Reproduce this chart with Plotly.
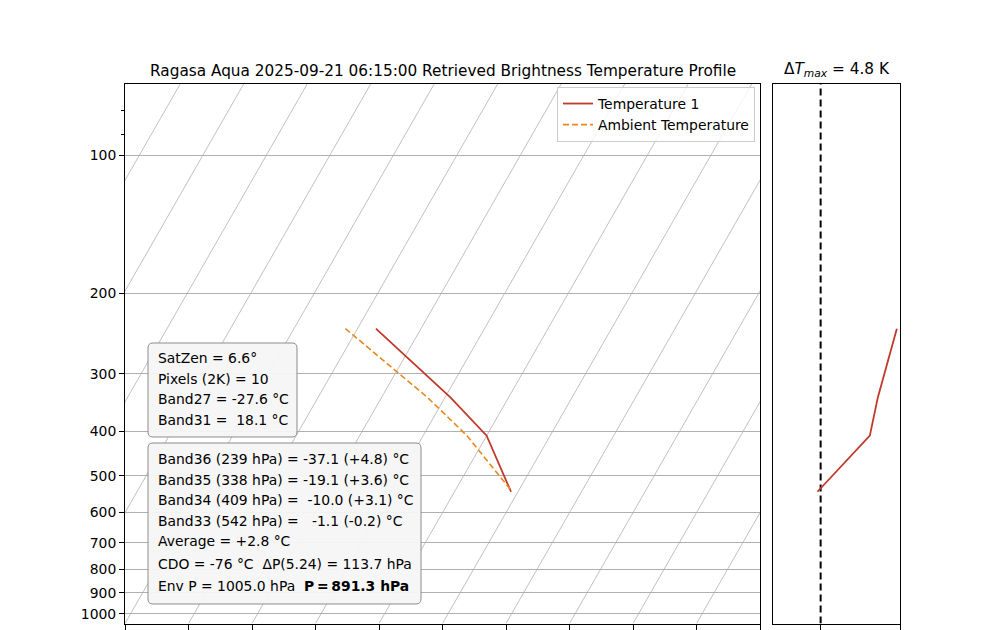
import numpy as np
import plotly.graph_objects as go

# ---------------- data ----------------
pressure_hpa = [239, 338, 409, 542]
temperature_1 = [-37.1, -19.1, -10.0, -1.1]
ambient_temperature = [-41.9, -22.7, -13.1, -0.9]
delta_t = [4.8, 3.6, 3.1, -0.2]

isotherm_bases = list(range(-130, 60, 10))
y_tick_vals = [100, 200, 300, 400, 500, 600, 700, 800, 900, 1000]
y_minor_vals = [80, 90]
x_tick_vals = [-50, -40, -30, -20, -10, 0, 10, 20, 30, 40, 50]
delta_tick_vals = [0, 5]

title_text = "Ragasa Aqua 2025-09-21 06:15:00 Retrieved Brightness Temperature Profile"
right_title = "Δ<i>T</i><sub><i>max</i></sub> = 4.8 K"
box1_lines = [
    "SatZen = 6.6°",
    "Pixels (2K) = 10",
    "Band27 = -27.6 °C",
    "Band31 =\u00a0\u00a018.1 °C",
]
box2_lines = [
    "Band36 (239 hPa) = -37.1 (+4.8) °C",
    "Band35 (338 hPa) = -19.1 (+3.6) °C",
    "Band34 (409 hPa) =\u00a0\u00a0-10.0 (+3.1) °C",
    "Band33 (542 hPa) =\u00a0\u00a0\u00a0-1.1 (-0.2) °C",
    "Average = +2.8 °C",
    "CDO = -76 °C\u00a0\u00a0ΔP(5.24) = 113.7 hPa",
    "Env P = 1005.0 hPa\u00a0\u00a0<b>P\u2009=\u2009891.3 hPa</b>",
]

# ---------------- geometry ----------------
W, H = 1000, 630
P_BOTTOM, P_TOP = 1050, 70
SKEW = 41.4  # degC shift per decade of pressure (skew-T)
FONT = "DejaVu Sans"
FS = 13.9
FS_TITLE = 15.3
RED = "#c0392b"
ORANGE = "#e6891f"
GRID = "#b0b0b0"


def skew_x(t, p):
    return np.asarray(t, dtype=float) + SKEW * np.log10(P_BOTTOM / np.asarray(p, dtype=float))


def px(x):
    return x / W


def py(y):
    return 1 - y / H


fig = go.Figure()

# isotherms
p_line = np.array([P_BOTTOM, P_TOP], dtype=float)
for t0 in isotherm_bases:
    fig.add_trace(go.Scatter(
        x=skew_x([t0, t0], p_line), y=p_line, mode="lines",
        line=dict(color=GRID, width=0.8), showlegend=False, hoverinfo="skip",
        xaxis="x", yaxis="y"))

fig.add_trace(go.Scatter(
    x=skew_x(temperature_1, pressure_hpa), y=pressure_hpa, mode="lines",
    name="Temperature 1", line=dict(color=RED, width=1.8), xaxis="x", yaxis="y"))
fig.add_trace(go.Scatter(
    x=skew_x(ambient_temperature, pressure_hpa), y=pressure_hpa, mode="lines",
    name="Ambient Temperature", line=dict(color=ORANGE, width=1.6, dash="6px,3px"),
    xaxis="x", yaxis="y"))

# right panel
fig.add_trace(go.Scatter(
    x=[0, 0], y=[P_BOTTOM, P_TOP], mode="lines",
    line=dict(color="black", width=2, dash="7px,4px"), showlegend=False,
    xaxis="x2", yaxis="y2"))
fig.add_trace(go.Scatter(
    x=delta_t, y=pressure_hpa, mode="lines",
    line=dict(color=RED, width=1.8), showlegend=False, xaxis="x2", yaxis="y2"))

y_dom = [py(623.5), py(84)]
common_y = dict(type="log", range=[np.log10(P_BOTTOM), np.log10(P_TOP)],
                showline=True, mirror=True, linecolor="black", linewidth=1,
                zeroline=False, domain=y_dom, automargin=False)

fig.update_layout(
    width=W, height=H,
    margin=dict(l=0, r=0, t=0, b=0),
    paper_bgcolor="white", plot_bgcolor="white",
    font=dict(family=FONT, size=FS, color="black"),
    xaxis=dict(domain=[px(125), px(760)], range=[-50, 50],
               tickvals=x_tick_vals, ticks="outside", ticklen=5, tickcolor="black",
               showticklabels=False, showgrid=False, zeroline=False,
               showline=True, mirror=True, linecolor="black", linewidth=1,
               automargin=False),
    yaxis=dict(**common_y, tickvals=y_tick_vals, ticktext=[str(v) for v in y_tick_vals],
               ticks="outside", ticklen=5, tickcolor="black",
               showgrid=True, gridcolor=GRID, gridwidth=0.8,
               tickfont=dict(size=FS),
               minor=dict(tickvals=y_minor_vals, ticks="outside", ticklen=3,
                          tickcolor="black", showgrid=False)),
    xaxis2=dict(domain=[px(773), px(900)], range=[-3, 5], anchor="y2",
                tickvals=delta_tick_vals, ticks="outside", ticklen=5, tickcolor="black",
                showticklabels=False, showgrid=False, zeroline=False,
                showline=True, mirror=True, linecolor="black", linewidth=1,
                automargin=False),
    yaxis2=dict(**common_y, anchor="x2", showticklabels=False, ticks="",
                showgrid=False),
    legend=dict(x=px(755), y=py(87), xanchor="right", yanchor="top",
                bgcolor="rgba(255,255,255,0.8)", bordercolor="#cccccc", borderwidth=1,
                font=dict(size=FS, color="black"), tracegroupgap=0),
    showlegend=True,
)

annotations = [
    dict(text=title_text, x=px(442.5), y=py(71), xref="paper", yref="paper",
         xanchor="center", yanchor="middle", showarrow=False, font=dict(size=FS_TITLE)),
    dict(text=right_title, x=px(836.5), y=py(70), xref="paper", yref="paper",
         xanchor="center", yanchor="middle", showarrow=False, font=dict(size=FS_TITLE)),
]

box1_y = [357.5, 379, 399, 419.5]
box2_y = [459, 479.5, 500, 520.5, 541, 564, 586]
for txt, yy in zip(box1_lines, box1_y):
    annotations.append(dict(text=txt, x=px(155.5), y=py(yy), xref="paper", yref="paper",
                            xanchor="left", yanchor="middle", showarrow=False,
                            font=dict(size=FS)))
for txt, yy in zip(box2_lines, box2_y):
    annotations.append(dict(text=txt, x=px(155.5), y=py(yy), xref="paper", yref="paper",
                            xanchor="left", yanchor="middle", showarrow=False,
                            font=dict(size=FS)))
fig.update_layout(annotations=annotations)


def rounded_rect(x0, y0, x1, y1, r=5):
    # pixel coords -> paper path
    def P(x, y):
        return f"{px(x):.5f},{py(y):.5f}"
    return (f"M {P(x0 + r, y0)} L {P(x1 - r, y0)} Q {P(x1, y0)} {P(x1, y0 + r)} "
            f"L {P(x1, y1 - r)} Q {P(x1, y1)} {P(x1 - r, y1)} "
            f"L {P(x0 + r, y1)} Q {P(x0, y1)} {P(x0, y1 - r)} "
            f"L {P(x0, y0 + r)} Q {P(x0, y0)} {P(x0 + r, y0)} Z")


shapes = [
    dict(type="path", path=rounded_rect(148, 343, 297, 437), xref="paper", yref="paper",
         fillcolor="rgba(245,245,245,0.95)", line=dict(color="#8c8c8c", width=1),
         layer="above"),
    dict(type="path", path=rounded_rect(148, 443, 421, 604), xref="paper", yref="paper",
         fillcolor="rgba(245,245,245,0.95)", line=dict(color="#8c8c8c", width=1),
         layer="above"),
]
fig.update_layout(shapes=shapes)

fig.write_html("out.html",
               config={"displayModeBar": False},
               post_script="document.body.style.margin='0px';document.body.style.overflow='hidden';")
